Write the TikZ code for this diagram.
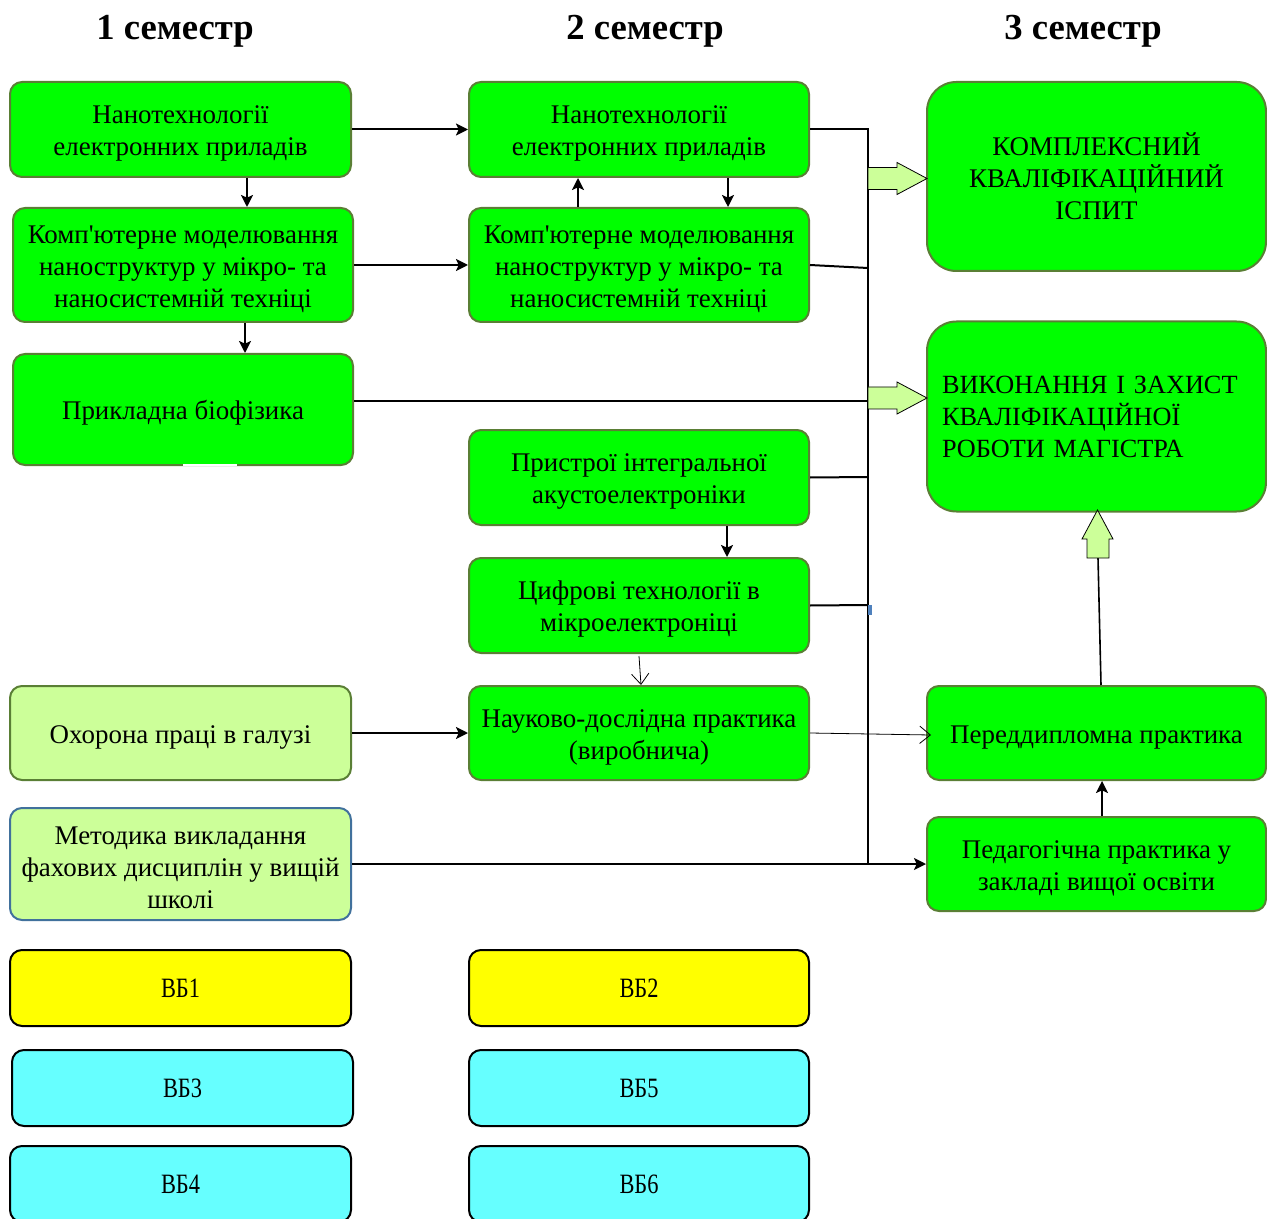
\documentclass[tikz,border=0pt]{standalone}
\usepackage{fontspec}
\setmainfont{Liberation Serif}[Ligatures=TeXOff]
\usepackage{graphicx}
\usetikzlibrary{arrows.meta,calc}
\definecolor{bgreen}{HTML}{00FF00}
\definecolor{bord}{HTML}{5A7F35}
\definecolor{lgreen}{HTML}{CCFF99}
\definecolor{bblue}{HTML}{41719C}
\definecolor{vyellow}{HTML}{FFFF00}
\definecolor{vcyan}{HTML}{66FFFF}
\definecolor{mblue}{HTML}{4F81BD}
\newcommand\tsp{\rule{0pt}{19.5pt}}
\begin{document}
\begin{tikzpicture}[x=0.75pt,y=-0.75pt,
  box/.style={draw=bord, fill=bgreen, line width=1.5pt, rounded corners=9pt,
    align=center, inner sep=2pt, font=\fontsize{20.2}{24}\selectfont},
  bigbox/.style={box, rounded corners=22pt},
  lbox/.style={box, fill=lgreen},
  vbox/.style={box, draw=black, font=\fontsize{21}{24}\selectfont},
  sz/.style 2 args={minimum width={#1*0.75pt}, minimum height={#2*0.75pt}},
  head/.style={font=\fontsize{27.5}{32}\selectfont\bfseries},
  arr/.style={line width=1.5pt, -{Stealth[length=9pt,width=9pt,inset=2pt]}},
  thinarr/.style={line width=0.6pt, -{Straight Barb[length=8pt,width=13pt]}},
  busline/.style={line width=1.5pt},
  bigarrow/.style={draw=black, line width=0.6pt, fill=lgreen},
]
\useasboundingbox (0,0) rectangle (1267,1219);
\clip (0,0) rectangle (1267,1219);

% headers
\node[head] (h1) at (175,31) {1 семестр};
\node[head] (h2) at (645,31) {2 семестр};
\node[head] (h3) at (1083,31) {3 семестр};

% column 1
\node[box, sz={341}{95}] (a1) at (180.5,129.5) {\tsp Нанотехнології\\електронних приладів};
\node[box, sz={340}{114}] (a2) at (183,265) {\tsp Комп'ютерне моделювання\\наноструктур у мікро- та\\наносистемній техніці};
\node[box, sz={340}{111}] (a3) at (183,409.5) {\tsp Прикладна біофізика};
\node[lbox, sz={341}{94}] (a4) at (180.5,733) {\tsp Охорона праці в галузі};
\node[lbox, draw=bblue, sz={341}{112}] (a5) at (180.5,864) {\tsp Методика викладання\\фахових дисциплін у вищій\\школі};
\node[vbox, fill=vyellow, sz={341}{76}] (v1) at (180.5,988) {\scalebox{0.8}[1]{ВБ1}};
\node[vbox, fill=vcyan, sz={341}{76}] (v3) at (182.5,1088) {\scalebox{0.8}[1]{ВБ3}};
\node[vbox, fill=vcyan, sz={341}{76}] (v4) at (180.5,1184) {\scalebox{0.8}[1]{ВБ4}};
\draw[white, line width=2pt] (183,465) -- (237,465);

% column 2
\node[box, sz={340}{95}] (b1) at (639,129.5) {\tsp Нанотехнології\\електронних приладів};
\node[box, sz={340}{114}] (b2) at (639,265) {\tsp Комп'ютерне моделювання\\наноструктур у мікро- та\\наносистемній техніці};
\node[box, sz={340}{95}] (b3) at (639,477.5) {\tsp Пристрої інтегральної\\акустоелектроніки};
\node[box, sz={340}{95}] (b4) at (639,605.5) {\tsp Цифрові технології в\\мікроелектроніці};
\node[box, sz={340}{94}] (b5) at (639,733) {\tsp Науково-дослідна практика\\(виробнича)};
\node[vbox, fill=vyellow, sz={340}{76}] (v2) at (639,988) {\scalebox{0.8}[1]{ВБ2}};
\node[vbox, fill=vcyan, sz={340}{76}] (v5) at (639,1088) {\scalebox{0.8}[1]{ВБ5}};
\node[vbox, fill=vcyan, sz={340}{76}] (v6) at (639,1184) {\scalebox{0.8}[1]{ВБ6}};

% column 3
\node[bigbox, sz={339}{189}] (c1) at (1096.5,176.5) {КОМПЛЕКСНИЙ\\КВАЛІФІКАЦІЙНИЙ\\ІСПИТ};
\node[bigbox, font=\fontsize{19.7}{24}\selectfont, minimum height={190*0.75pt}, inner xsep={15*0.75pt}, text width={309*0.75pt}, align=left] (c2) at (1096.5,416.5) {ВИКОНАННЯ І ЗАХИСТ\\КВАЛІФІКАЦІЙНОЇ\\РОБОТИ МАГІСТРА};
\node[box, sz={339}{94}] (c3) at (1096.5,733) {\tsp Переддипломна практика};
\node[box, sz={339}{94}] (c4) at (1096.5,864) {\tsp Педагогічна практика у\\закладі вищої освіти};

% arrows column 1 -> 2
\draw[arr] (a1.east) -- (b1.west);
\draw[arr] (a2.east) -- (b2.west);
\draw[arr] ($(a1.south)+(66.5,0)$) -- ($(a2.north)+(64,0)$);
\draw[arr] ($(a2.south)+(62,0)$) -- ($(a3.north)+(62,0)$);
\draw[arr] ($(b2.north)+(-61,0)$) -- ($(b1.south)+(-61,0)$);
\draw[arr] ($(b1.south)+(89,0)$) -- ($(b2.north)+(89,0)$);
\draw[arr] ($(b3.south)+(88,0)$) -- ($(b4.north)+(88,0)$);
\draw[thinarr] ($(b4.south)+(0,2)$) -- ($(b5.north)+(2,0)$);
\draw[arr] (a4.east) -- (b5.west);
\draw[arr] (a5.east) -- (c4.west);
\draw[thinarr] (b5.east) -- ($(c3.west)+(5,2)$);

% bus
\coordinate (j1) at (868,129.5);
\coordinate (j2) at (868,268);
\coordinate (j3) at (868,401);
\coordinate (j4) at (868,477);
\coordinate (j5) at (868,605);
\coordinate (jm) at (868,610);
\coordinate (jb) at (868,864);
\draw[busline] (b1.east) -- (j1) -- (jm);
\draw[line width=0.8pt] (jm) -- (jb);
\draw[busline] (b2.east) -- (j2);
\draw[busline] ($(a3.east)+(0,-8.5)$) -- (j3);
\draw[busline] (b3.east) -- (j4);
\draw[busline] (b4.east) -- (j5);
\fill[mblue] (867.5,605) rectangle (872,615);

% block arrows
\draw[bigarrow] (868,167.5) -- (897,167.5) -- (897,162.5) -- (927,178.5) -- (897,194.5) -- (897,189.5) -- (868,189.5) -- cycle;
\draw[bigarrow] (868,387) -- (897,387) -- (897,382) -- (927,398) -- (897,414) -- (897,409) -- (868,409) -- cycle;
\coordinate (up1) at (1098,558);
\draw[line width=1.2pt] ($(c3.north)+(4.5,0)$) -- (up1);
\draw[bigarrow] (1087,558) -- (1087,539) -- (1082,539) -- (1097.5,510) -- (1113,539) -- (1109,539) -- (1109,558) -- cycle;
\draw[arr] ($(c4.north)+(5.5,0)$) -- ($(c3.south)+(5.5,0)$);
\end{tikzpicture}
\end{document}
